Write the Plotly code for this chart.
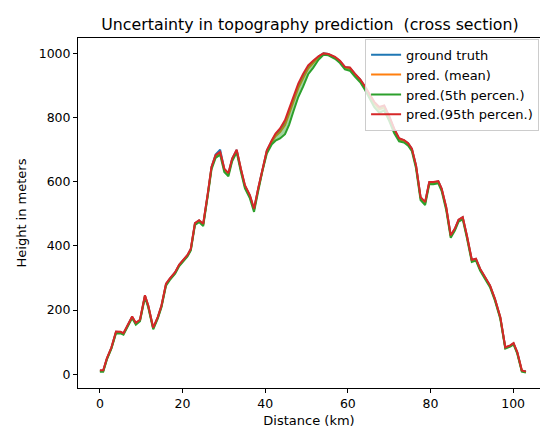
import plotly.graph_objects as go

# Distance along the cross section (km)
distance_km = [0.0, 0.8, 1.7, 2.8, 3.9, 5.0, 5.7, 6.6, 7.8, 8.7, 9.7, 10.9, 11.7, 12.9, 14.0, 14.9,
               16.0, 16.9, 18.2, 19.2, 20.3, 21.2, 22.0, 23.0, 24.0, 25.0, 26.1, 27.0, 28.0, 29.1,
               30.1, 31.1, 32.0, 33.1, 34.1, 35.1, 36.3, 37.3, 38.3, 39.3, 40.4, 41.6, 42.5, 43.6,
               44.8, 45.8, 46.8, 48.0, 49.2, 50.4, 51.6, 52.9, 54.1, 55.3, 56.9, 58.1, 59.3, 60.5,
               61.7, 63.0, 64.2, 65.4, 66.4, 67.6, 68.8, 70.0, 71.2, 72.4, 73.6, 74.6, 75.5, 76.5,
               77.6, 78.7, 79.7, 80.7, 81.9, 82.7, 83.8, 84.9, 85.9, 86.8, 87.8, 88.8, 90.0, 91.0,
               92.0, 93.2, 94.4, 95.6, 96.9, 98.1, 99.3, 100.1, 101.0, 102.1, 103.1]

ground_truth = [11, 11, 49, 83, 132, 131, 127, 148, 179, 159,
                169, 245, 213, 144, 177, 213, 281, 297, 317, 341,
                356, 371, 390, 470, 479, 467, 561, 645, 685, 700,
                639, 625, 671, 699, 640, 587, 556, 514, 578, 640,
                697, 727, 746, 760, 783, 820, 858, 899, 930, 958,
                974, 990, 1000, 998, 988, 976, 957, 955, 936, 918,
                895, 867, 846, 830, 836, 803, 764, 734, 729, 719,
                702, 650, 551, 535, 598, 598, 601, 578, 520, 432,
                453, 481, 489, 432, 356, 359, 328, 302, 276, 234,
                177, 83, 89, 96, 68, 11, 9]

pred_mean = [10, 10, 48, 82, 131, 130, 126, 147, 178, 158,
             168, 244, 212, 143, 176, 212, 280, 296, 316, 340,
             355, 370, 389, 469, 478, 466, 560, 643, 680, 690,
             637, 623, 669, 697, 638, 585, 554, 512, 576, 638,
             695, 724, 742, 755, 777, 812, 850, 892, 923, 953,
             970, 988, 999, 997, 987, 974, 955, 952, 934, 916,
             892, 864, 843, 826, 832, 800, 761, 732, 727, 717,
             700, 648, 549, 533, 596, 596, 599, 576, 518, 430,
             452, 480, 487, 430, 354, 358, 327, 301, 275, 233,
             176, 82, 88, 95, 67, 10, 7]

pred_p5 = [8, 8, 46, 80, 128, 127, 123, 144, 175, 154,
           165, 240, 208, 140, 173, 209, 276, 293, 313, 337,
           352, 367, 386, 465, 474, 462, 556, 638, 674, 684,
           630, 617, 664, 692, 632, 579, 548, 506, 570, 632,
           688, 717, 728, 735, 748, 778, 818, 864, 897, 935,
           955, 980, 996, 994, 983, 970, 950, 946, 928, 910,
           885, 855, 832, 815, 822, 790, 752, 726, 722, 712,
           695, 642, 543, 527, 592, 592, 595, 571, 512, 425,
           448, 476, 483, 425, 350, 354, 323, 297, 271, 229,
           172, 80, 86, 93, 64, 8, 5]

pred_p95 = [12, 12, 50, 84, 133, 132, 128, 149, 180, 160,
            170, 246, 214, 145, 178, 214, 282, 298, 318, 342,
            357, 372, 391, 471, 480, 469, 563, 646, 683, 693,
            641, 627, 672, 700, 641, 589, 558, 516, 579, 641,
            698, 729, 750, 766, 792, 828, 865, 906, 937, 963,
            977, 991, 1000, 998, 989, 977, 958, 956, 937, 919,
            896, 869, 849, 833, 838, 805, 766, 736, 730, 720,
            703, 651, 552, 537, 599, 599, 602, 579, 521, 433,
            454, 482, 490, 433, 357, 360, 329, 303, 277, 235,
            178, 84, 90, 97, 69, 12, 8]

x_ticks = [0, 20, 40, 60, 80, 100]
y_ticks = [0, 200, 400, 600, 800, 1000]

BLUE, ORANGE, GREEN, RED = "#1f77b4", "#ff7f0e", "#2ca02c", "#d62728"
FONT = "DejaVu Sans"
LW = 2

fig = go.Figure()
fig.add_trace(go.Scatter(x=distance_km, y=ground_truth, mode="lines", name="ground truth",
                         line=dict(color=BLUE, width=LW)))
fig.add_trace(go.Scatter(x=distance_km, y=pred_mean, mode="lines", name="pred. (mean)",
                         line=dict(color=ORANGE, width=LW)))
fig.add_trace(go.Scatter(x=distance_km, y=pred_p5, mode="lines", name="pred.(5th percen.)",
                         line=dict(color=GREEN, width=LW)))
# shaded band between the 5th and 95th percentiles
fig.add_trace(go.Scatter(x=distance_km, y=pred_p95, mode="lines", showlegend=False,
                         line=dict(width=0), fill="tonexty",
                         fillcolor="rgba(44,160,44,0.45)", hoverinfo="skip"))
fig.add_trace(go.Scatter(x=distance_km, y=pred_p95, mode="lines", name="pred.(95th percen.)",
                         line=dict(color=RED, width=LW)))

W, H = 540, 429
ml, mr, mt, mb = 78, 0, 38, 41

fig.update_layout(
    width=W, height=H,
    margin=dict(l=ml, r=mr, t=mt, b=mb),
    paper_bgcolor="white", plot_bgcolor="white",
    font=dict(family=FONT, size=12, color="#000000"),
    showlegend=True,
    legend=dict(x=0.998, xanchor="right", y=0.998, yanchor="top", traceorder="normal",
                bgcolor="rgba(255,255,255,0.8)", bordercolor="#cccccc", borderwidth=1,
                font=dict(family=FONT, size=13, color="#000000"),
                tracegroupgap=0, itemwidth=30),
    title=dict(text="Uncertainty in topography prediction  (cross section)",
               x=(310 - ml) / (W - ml - mr), xref="paper", xanchor="center",
               y=1 - 24 / H, yref="container", yanchor="middle",
               font=dict(family=FONT, size=15.8, color="#000000")),
)

fig.update_xaxes(range=[-5.3, 106.5], tickvals=x_ticks, ticktext=[str(v) for v in x_ticks],
                 showgrid=False, zeroline=False, showline=True, linecolor="black", linewidth=1,
                 mirror=True, ticks="outside", ticklen=4, tickcolor="black",
                 tickfont=dict(family=FONT, size=12.5),
                 title=dict(text="Distance (km)", font=dict(family=FONT, size=13), standoff=5))
fig.update_yaxes(range=[-43, 1048], tickvals=y_ticks, ticktext=[str(v) for v in y_ticks],
                 showgrid=False, zeroline=False, showline=True, linecolor="black", linewidth=1,
                 ticks="outside", ticklen=4, tickcolor="black",
                 tickfont=dict(family=FONT, size=12.5),
                 title=dict(text="Height in meters", font=dict(family=FONT, size=13), standoff=9))

fig.write_html("out.html")
